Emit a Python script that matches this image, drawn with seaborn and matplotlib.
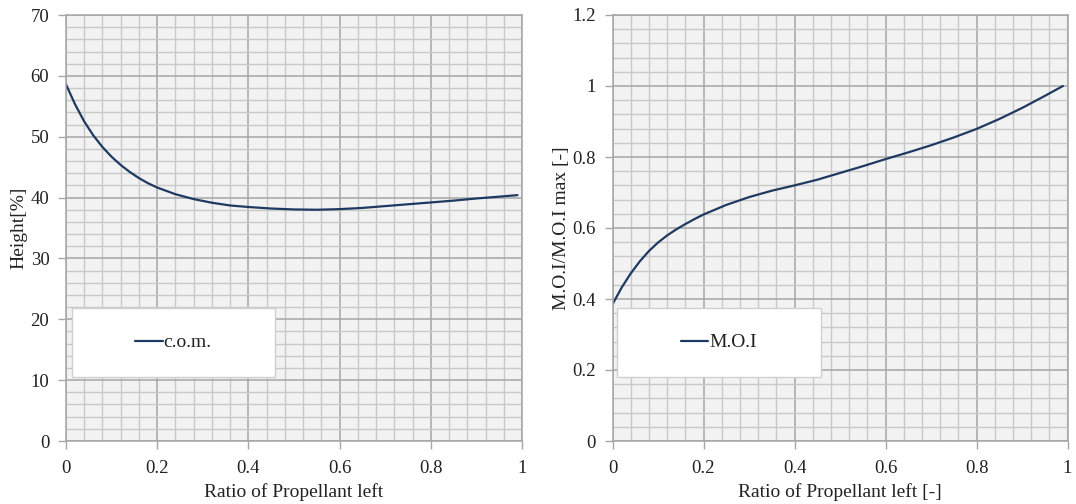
import numpy as np
import pandas as pd
import matplotlib
matplotlib.use("Agg")
import matplotlib.pyplot as plt
import seaborn as sns
from matplotlib.patches import Rectangle
from matplotlib.lines import Line2D
from matplotlib.ticker import MultipleLocator, FormatStrFormatter

# ---- data ----
com_x = [0, 0.02, 0.04, 0.06, 0.08, 0.10, 0.12, 0.14, 0.16, 0.18, 0.20, 0.24, 0.28,
         0.32, 0.36, 0.40, 0.45, 0.50, 0.55, 0.60, 0.65, 0.70, 0.75, 0.80, 0.85,
         0.90, 0.95, 0.99]
com_y = [58.6, 55.3, 52.5, 50.2, 48.3, 46.7, 45.35, 44.2, 43.2, 42.35, 41.65, 40.55, 39.75,
         39.15, 38.7, 38.45, 38.2, 38.05, 38.0, 38.1, 38.3, 38.6, 38.9, 39.2, 39.5,
         39.85, 40.15, 40.4]

moi_x = [0, 0.02, 0.04, 0.06, 0.08, 0.10, 0.12, 0.14, 0.16, 0.18, 0.20, 0.25, 0.30,
         0.35, 0.40, 0.45, 0.50, 0.55, 0.60, 0.65, 0.70, 0.75, 0.80, 0.85, 0.90,
         0.95, 0.99]
moi_y = [0.385, 0.432, 0.472, 0.506, 0.535, 0.559, 0.579, 0.596, 0.611, 0.625, 0.638,
         0.665, 0.687, 0.705, 0.720, 0.736, 0.755, 0.774, 0.794, 0.813, 0.833,
         0.855, 0.879, 0.907, 0.938, 0.972, 1.0]

x_ticks = [0, 0.2, 0.4, 0.6, 0.8, 1]
left_label = "c.o.m."
right_label = "M.O.I"

sns.set_theme(style="white")
plt.rcParams['font.family'] = ['Liberation Serif', 'DejaVu Serif']
plt.rcParams['font.size'] = 13

LINE = "#1f3a60"
BG = "#f2f2f2"
MAJ = "#a6a6a6"
MIN = "#c9c9c9"
TXT = "#222222"

fig = plt.figure(figsize=(10.76, 5.04), dpi=100)
ax1 = fig.add_axes([66 / 1076, 63 / 504, 456 / 1076, 426 / 504])
ax2 = fig.add_axes([612.5 / 1076, 63 / 504, 455 / 1076, 426 / 504])

df1 = pd.DataFrame({"x": com_x, "y": com_y})
df2 = pd.DataFrame({"x": moi_x, "y": moi_y})

sns.lineplot(data=df1, x="x", y="y", ax=ax1, color=LINE, lw=1.6, legend=False)
sns.lineplot(data=df2, x="x", y="y", ax=ax2, color=LINE, lw=1.6, legend=False)


def style(ax, ymax, ymaj, ymin, yfmt):
    ax.set_facecolor(BG)
    ax.set_xlim(0, 1)
    ax.set_ylim(0, ymax)
    ax.set_xticks(x_ticks)
    ax.xaxis.set_minor_locator(MultipleLocator(0.04))
    ax.yaxis.set_major_locator(MultipleLocator(ymaj))
    ax.yaxis.set_minor_locator(MultipleLocator(ymin))
    ax.xaxis.set_major_formatter(FormatStrFormatter('%g'))
    ax.yaxis.set_major_formatter(FormatStrFormatter(yfmt))
    ax.grid(which='minor', color=MIN, lw=1.0)
    ax.grid(which='major', color=MAJ, lw=1.1)
    ax.set_axisbelow(True)
    ax.tick_params(which='major', direction='out', length=6, width=1, color=MAJ,
                   labelsize=13.5, left=True, bottom=True, labelcolor=TXT)
    ax.tick_params(axis='x', which='major', pad=8)
    ax.tick_params(axis='y', which='major', pad=6)
    ax.tick_params(which='minor', length=0)
    for s in ax.spines.values():
        s.set_color(MAJ)
        s.set_linewidth(1.1)


style(ax1, 70, 10, 2, '%g')
style(ax2, 1.2, 0.2, 0.04, '%g')

ax1.set_xlabel("Ratio of Propellant left", fontsize=14, labelpad=4, color=TXT)
ax1.set_ylabel("Height[%]", fontsize=14, labelpad=2, color=TXT)
ax2.set_xlabel("Ratio of Propellant left [-]", fontsize=14, labelpad=4, color=TXT)
ax2.set_ylabel("M.O.I/M.O.I max [-]", fontsize=14, labelpad=2, color=TXT)


def add_legend(ax, label, x0, x1):
    y0, y1 = 0.150, 0.312
    ax.add_patch(Rectangle((x0, y0), x1 - x0, y1 - y0, transform=ax.transAxes,
                           facecolor="white", edgecolor="#d0d0d0", lw=1.0, zorder=5))
    h = Line2D([], [], color=LINE, lw=1.6)
    leg = ax.legend([h], [label], loc='center', bbox_to_anchor=((x0 + x1) / 2, (y0 + y1) / 2),
                    bbox_transform=ax.transAxes, frameon=False, handlelength=1.4,
                    handletextpad=0.05, fontsize=14, borderpad=0)
    leg.set_zorder(6)
    for t in leg.get_texts():
        t.set_color(TXT)


add_legend(ax1, left_label, 0.013, 0.458)
add_legend(ax2, right_label, 0.0105, 0.458)

fig.savefig("out.png", dpi=100, facecolor="white")
